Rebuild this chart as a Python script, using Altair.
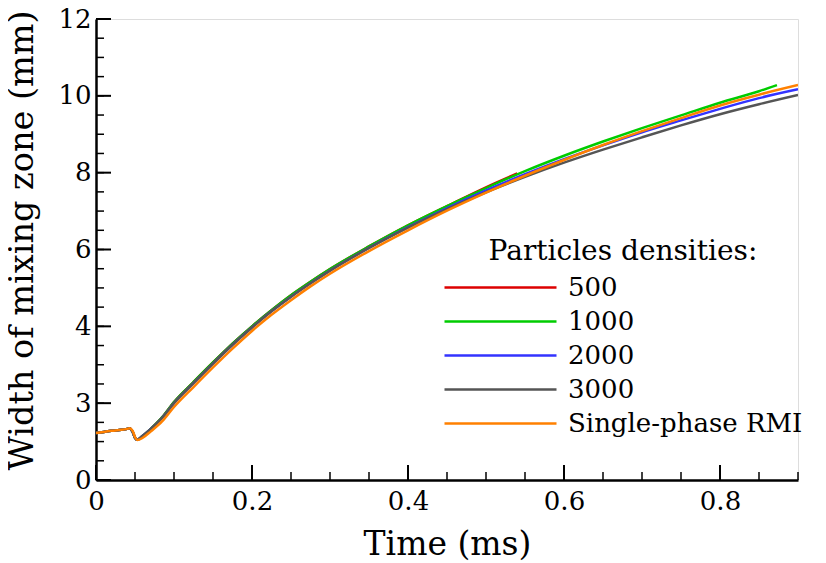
import altair as alt
import pandas as pd

# ---- data ----
series_names = ["500", "1000", "2000", "3000", "Single-phase RMI"]
series_colors = ["#dd0000", "#00cc00", "#3333ff", "#555555", "#ff8000"]

t_common = [0, 0.01, 0.02, 0.03, 0.04, 0.043, 0.047, 0.05, 0.053, 0.06, 0.07, 0.085,
            0.1, 0.125, 0.15, 0.175, 0.2, 0.225, 0.25, 0.275, 0.3, 0.35, 0.4, 0.45, 0.5]

w_500 = [1.22, 1.25, 1.28, 1.30, 1.33, 1.35, 1.25, 1.1, 1.05, 1.15, 1.33, 1.64,
         2.03, 2.55, 3.06, 3.55, 4.0, 4.42, 4.81, 5.16, 5.49, 6.08, 6.63, 7.13, 7.62]
t_500_tail = [0.54]
w_500_tail = [7.98]

w_1000 = [1.22, 1.25, 1.28, 1.30, 1.33, 1.35, 1.25, 1.1, 1.05, 1.15, 1.33, 1.64,
          2.03, 2.55, 3.06, 3.55, 4.0, 4.42, 4.81, 5.16, 5.49, 6.08, 6.63, 7.13, 7.6]
t_1000_tail = [0.55, 0.6, 0.65, 0.7, 0.75, 0.8, 0.85, 0.873]
w_1000_tail = [8.04, 8.44, 8.81, 9.16, 9.49, 9.82, 10.12, 10.28]

w_2000 = [1.22, 1.25, 1.28, 1.30, 1.33, 1.35, 1.25, 1.1, 1.05, 1.15, 1.32, 1.62,
          2.0, 2.52, 3.03, 3.52, 3.97, 4.39, 4.77, 5.12, 5.45, 6.04, 6.58, 7.08, 7.54]
t_2000_tail = [0.55, 0.6, 0.65, 0.7, 0.75, 0.8, 0.85, 0.9]
w_2000_tail = [7.96, 8.35, 8.71, 9.05, 9.36, 9.66, 9.94, 10.17]

w_3000 = [1.22, 1.25, 1.28, 1.30, 1.33, 1.35, 1.25, 1.1, 1.05, 1.15, 1.32, 1.62,
          2.0, 2.52, 3.03, 3.52, 3.97, 4.39, 4.77, 5.12, 5.45, 6.04, 6.57, 7.05, 7.49]
t_3000_tail = [0.55, 0.6, 0.65, 0.7, 0.75, 0.8, 0.85, 0.9]
w_3000_tail = [7.89, 8.26, 8.6, 8.92, 9.23, 9.52, 9.78, 10.02]

w_single = [1.22, 1.25, 1.28, 1.30, 1.33, 1.35, 1.28, 1.12, 1.04, 1.1, 1.26, 1.53,
            1.9, 2.42, 2.93, 3.42, 3.88, 4.3, 4.68, 5.04, 5.37, 5.96, 6.5, 7.01, 7.48]
t_single_tail = [0.55, 0.6, 0.65, 0.7, 0.75, 0.8, 0.85, 0.9]
w_single_tail = [7.92, 8.33, 8.72, 9.08, 9.42, 9.75, 10.03, 10.28]

x_major = [0, 0.2, 0.4, 0.6, 0.8]
x_minor = [0.05 * i for i in range(19)]
y_major = [0, 2, 4, 6, 8, 10, 12]
y_minor = [0.5 * i for i in range(25)]

# ---- build table ----
rows = []
def add(name, ts, ws):
    for tt, ww in zip(ts, ws):
        rows.append({"Time": tt, "Width": ww, "Series": name})

add("500", t_common + t_500_tail, w_500 + w_500_tail)
add("1000", t_common + t_1000_tail, w_1000 + w_1000_tail)
add("2000", t_common + t_2000_tail, w_2000 + w_2000_tail)
add("3000", t_common + t_3000_tail, w_3000 + w_3000_tail)
add("Single-phase RMI", t_common + t_single_tail, w_single + w_single_tail)
df = pd.DataFrame(rows)
df["order"] = df["Series"].map({n: i for i, n in enumerate(series_names)})

FONT = "DejaVu Serif"
W, H = 702, 461

xscale = alt.Scale(domain=[0, 0.9], nice=False, zero=False)
yscale = alt.Scale(domain=[0, 12], nice=False)

lines = alt.Chart(df).mark_line(strokeWidth=2.5, clip=True, interpolate="monotone").encode(
    x=alt.X("Time:Q", scale=xscale,
            axis=alt.Axis(title="Time (ms)", values=x_major, ticks=False, grid=False,
                          labelExpr="datum.value == 0 ? '0' : format(datum.value, '.1f')",
                          labelFlush=False,
                          labelFont=FONT, labelFontSize=26, labelPadding=8,
                          labelColor="black", domainColor="black", domainWidth=2.5,
                          titleFont=FONT, titleFontSize=33, titleFontWeight="normal",
                          titleColor="black", titlePadding=14)),
    y=alt.Y("Width:Q", scale=yscale,
            axis=alt.Axis(title="Width of mixing zone (mm)", values=y_major, ticks=False,
                          grid=False, labelExpr="datum.value == 2 ? '3' : datum.label",
                          labelFlush=False,
                          labelFont=FONT, labelFontSize=26, labelPadding=5,
                          labelColor="black", domainColor="black", domainWidth=2.5,
                          titleFont=FONT, titleFontSize=33.5, titleFontWeight="normal",
                          titleColor="black", titleX=-57, titleY=221)),
    color=alt.Color("Series:N",
                    scale=alt.Scale(domain=series_names, range=series_colors),
                    sort=series_names,
                    legend=alt.Legend(title="Particles densities:", orient="none",
                                      legendX=347, legendY=219,
                                      symbolType="M-1,0H7", symbolSize=784,
                                      symbolStrokeWidth=2.5,
                                      labelFont=FONT, labelFontSize=26, labelColor="black",
                                      labelOffset=94, rowPadding=5, labelLimit=400,
                                      titleLimit=400,
                                      titleFont=FONT, titleFontSize=28,
                                      titleFontWeight="normal", titleColor="black",
                                      titleAnchor="middle", titlePadding=6)),
    order=alt.Order("order:Q"),
    detail="Series:N",
)

ymaj = alt.Chart(pd.DataFrame({"v": y_major})).mark_rule(color="black", strokeWidth=2).encode(
    y=alt.Y("v:Q", scale=yscale), x=alt.value(0), x2=alt.value(15))
ymin = alt.Chart(pd.DataFrame({"v": y_minor})).mark_rule(color="black", strokeWidth=1.5).encode(
    y=alt.Y("v:Q", scale=yscale), x=alt.value(0), x2=alt.value(8))
xmaj = alt.Chart(pd.DataFrame({"v": x_major})).mark_rule(color="black", strokeWidth=2).encode(
    x=alt.X("v:Q", scale=xscale), y=alt.value(H), y2=alt.value(H - 15))
xmin = alt.Chart(pd.DataFrame({"v": x_minor})).mark_rule(color="black", strokeWidth=1.5).encode(
    x=alt.X("v:Q", scale=xscale), y=alt.value(H), y2=alt.value(H - 8))

chart = alt.layer(ymin, ymaj, xmin, xmaj, lines).properties(
    width=W, height=H,
    autosize=alt.AutoSizeParams(type="none"),
    padding={"left": 88, "top": 11, "right": 20, "bottom": 82},
).configure_view(stroke=None).configure(background="white")

chart.save("out.html", embed_options={"renderer": "svg", "actions": False})
